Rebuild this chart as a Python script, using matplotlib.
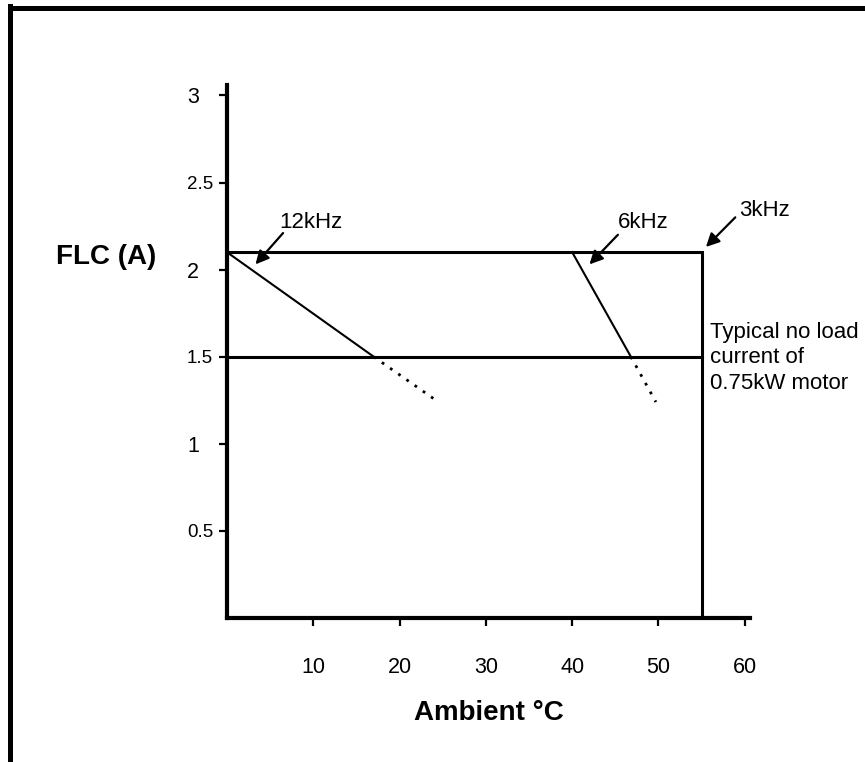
import matplotlib
matplotlib.use("Agg")
import matplotlib.pyplot as plt
from matplotlib.lines import Line2D

plt.rcParams['font.family'] = ['Liberation Sans', 'DejaVu Sans']

# data
x_3k = [0, 55, 55]
y_3k = [2.1, 2.1, 0]
x_noload = [0, 55]
y_noload = [1.5, 1.5]
x_12k = [0, 17]
y_12k = [2.1, 1.5]
x_12k_ext = [17, 24.5]
y_12k_ext = [1.5, 1.24]
x_6k = [40, 46.8]
y_6k = [2.1, 1.5]
x_6k_ext = [46.8, 49.7]
y_6k_ext = [1.5, 1.24]

x_ticks = [10, 20, 30, 40, 50, 60]
y_major = [1, 2, 3]
y_minor = [0.5, 1.5, 2.5]

fig = plt.figure(figsize=(8.65, 7.62), dpi=100)
ax = fig.add_axes([0.2624, 0.189, 0.6046, 0.6995])

ax.plot(x_3k, y_3k, color='k', lw=2.2, solid_joinstyle='miter')
ax.plot(x_noload, y_noload, color='k', lw=2.2)
ax.plot(x_12k, y_12k, color='k', lw=1.5)
ax.plot(x_12k_ext, y_12k_ext, color='k', lw=2, linestyle=(0, (1, 2.6)))
ax.plot(x_6k, y_6k, color='k', lw=1.5)
ax.plot(x_6k_ext, y_6k_ext, color='k', lw=2, linestyle=(0, (1, 2.6)))

ax.set_xlim(0, 60.6)
ax.set_ylim(0, 3.06)

for s in ['top', 'right']:
    ax.spines[s].set_visible(False)
for s in ['left', 'bottom']:
    ax.spines[s].set_linewidth(3)
    ax.spines[s].set_color('k')

ax.set_xticks(x_ticks)
ax.set_xticklabels([str(t) for t in x_ticks])
ax.set_yticks(y_major)
ax.set_yticklabels([str(t) for t in y_major])
ax.set_yticks(y_minor, minor=True)
ax.set_yticklabels([str(t) for t in y_minor], minor=True)

ax.tick_params(axis='x', direction='out', length=6, width=1.6, pad=22, labelsize=15.5, colors='k')
ax.tick_params(axis='y', which='major', direction='out', length=6, width=1.6, pad=14, labelsize=15.5)
ax.tick_params(axis='y', which='minor', direction='out', length=6, width=1.6, pad=4, labelsize=13.5)

ax.set_xlabel('Ambient °C', fontsize=20, fontweight='bold', labelpad=16)
ax.set_ylabel('FLC (A)', fontsize=20, fontweight='bold', rotation=0, ha='center', va='center')
ax.yaxis.set_label_coords((106 - 227) / 523, (618 - 257) / 533)

arrow = dict(arrowstyle='-|>', color='k', lw=1.6, mutation_scale=20, shrinkA=0, shrinkB=0)
ax.annotate('', xy=(3.3, 2.03), xytext=(6.5, 2.21), arrowprops=arrow)
ax.text(6.1, 2.27, '12kHz', fontsize=16, ha='left', va='center')
ax.annotate('', xy=(42.0, 2.03), xytext=(45.3, 2.20), arrowprops=arrow)
ax.text(45.3, 2.27, '6kHz', fontsize=16, ha='left', va='center')
ax.annotate('', xy=(55.5, 2.13), xytext=(58.9, 2.30), arrowprops=arrow)
ax.text(59.4, 2.34, '3kHz', fontsize=16, ha='left', va='center')
ax.text(56.0, 1.70, 'Typical no load\ncurrent of\n0.75kW motor', fontsize=16,
        ha='left', va='top', linespacing=1.28, clip_on=False)

# frame lines at top and left edge of the page
fig.add_artist(Line2D([9.5 / 865, 9.5 / 865], [0, 1 - 6 / 762], color='k', lw=3.6,
                      solid_capstyle='projecting'))
fig.add_artist(Line2D([9.5 / 865, 1], [1 - 7.5 / 762, 1 - 7.5 / 762], color='k', lw=3.6,
                      solid_capstyle='projecting'))

fig.savefig('out.png', dpi=100)
